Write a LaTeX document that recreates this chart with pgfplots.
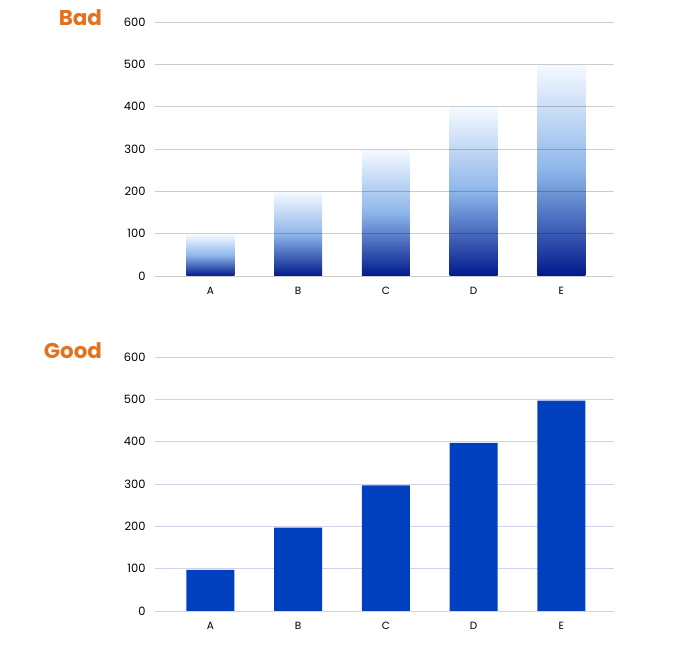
\documentclass[border=0pt]{standalone}
\usepackage{pgfplots}
\pgfplotsset{compat=1.18}
\usepackage{fontspec}
\setmainfont{Poppins}

\definecolor{titleorange}{HTML}{E4711F}
\definecolor{goodblue}{HTML}{0040BF}
\definecolor{navy}{HTML}{001A8C}
\definecolor{midblue}{HTML}{8DB5EA}
\definecolor{paleblue}{HTML}{F4F9FF}
\definecolor{gridlav}{HTML}{D4D0EA}

\pgfplotsset{
  panel/.style={
    scale only axis,
    width=459bp, height=254bp,
    anchor=south west,
    xmin=-0.63, xmax=4.6,
    ymin=0, ymax=600,
    ytick={0,100,...,600},
    xtick={0,1,2,3,4},
    xticklabels={A,B,C,D,E},
    axis line style={draw=none},
    major tick length=0pt,
    ymajorgrids,
    tick label style={font=\fontsize{10.5}{12}\selectfont, /pgf/number format/assume math mode=true},
    yticklabel style={font=\fontsize{11.5}{13}\selectfont, xshift=-6bp},
    xticklabel style={yshift=-8bp},
  },
  fade bar/.style={ybar, bar width=48bp, draw=none,
    top color=paleblue, bottom color=navy, middle color=midblue},
}

\begin{document}
\begin{tikzpicture}
\path[use as bounding box] (0bp,0bp) rectangle (700bp,649bp);

\node[anchor=east, text=titleorange, font=\fontsize{21.5}{24}\selectfont\bfseries] at (105.5bp,631bp) {Bad};
\node[anchor=east, text=titleorange, font=\fontsize{21.5}{24}\selectfont\bfseries] at (105.5bp,298bp) {Good};

% Bad: gradient bars, one plot per bar so each gets its own shading
\begin{axis}[panel, at={(155bp,373bp)}, axis on top,
  grid style={black, opacity=0.2, line width=0.8bp}]
\addplot[fade bar] coordinates {(0,97)};
\addplot[fade bar] coordinates {(1,197)};
\addplot[fade bar] coordinates {(2,297)};
\addplot[fade bar] coordinates {(3,397)};
\addplot[fade bar] coordinates {(4,497)};
\end{axis}

% Good: solid bars
\begin{axis}[panel, at={(155bp,38bp)},
  grid style={gridlav, line width=0.8bp}]
\addplot[ybar, bar width=48bp, draw=none, fill=goodblue]
  coordinates {(0,97) (1,197) (2,297) (3,397) (4,497)};
\end{axis}
\end{tikzpicture}
\end{document}
